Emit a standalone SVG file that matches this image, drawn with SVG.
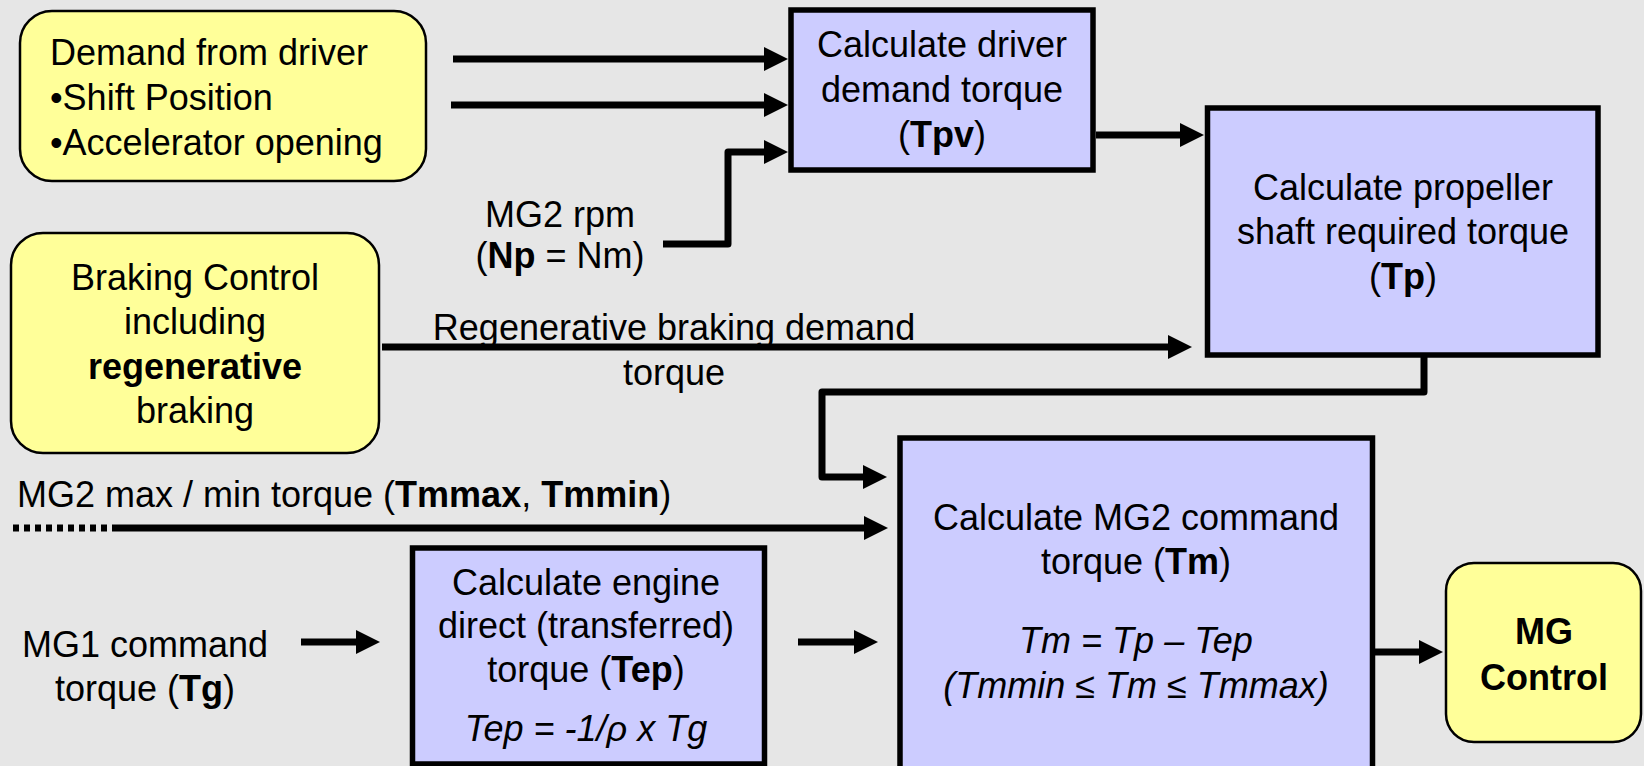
<svg xmlns="http://www.w3.org/2000/svg" width="1644" height="766" viewBox="0 0 1644 766">
<style>
.bg{fill:#e6e6e6}
.yel{fill:#ffff99;stroke:#000;stroke-width:2.5}
.pur{fill:#ccccff;stroke:#000;stroke-width:5.5}
.ln{fill:none;stroke:#000;stroke-width:7;stroke-linejoin:round}
.arr{marker-end:url(#ah)}
.dash{stroke-dasharray:6 5}
text{font-family:"Liberation Sans",Arial,Helvetica,sans-serif;font-size:36px;fill:#000}
text.c{text-anchor:middle}
text.l{text-anchor:start}
.b{font-weight:bold}
.i{font-style:italic}
</style>
<defs>
<marker id="ah" markerUnits="userSpaceOnUse" viewBox="0 0 24 24" markerWidth="24" markerHeight="24" refX="12" refY="12" orient="auto">
<path d="M0,0 L24,12 L0,24 Z" fill="#000"/>
</marker>
</defs>
<rect class="bg" x="0" y="0" width="1644" height="766"/>

<g id="connectors">
<path class="ln arr" d="M453,59 H776"/>
<path class="ln arr" d="M451,105 H776"/>
<path class="ln arr" d="M663,244 H728 V152 H776"/>
<path class="ln arr" d="M1096,135 H1192"/>
<path class="ln arr" d="M382,347 H1180"/>
<path class="ln arr" d="M1424,357 V392 H822 V477 H875"/>
<path class="ln dash" d="M13,528 H118"/>
<path class="ln arr" d="M118,528 H876"/>
<path class="ln arr" d="M301,642 H368"/>
<path class="ln arr" d="M798,642 H866"/>
<path class="ln arr" d="M1374,652 H1431"/>
</g>

<g id="demand-from-driver">
<rect class="yel" x="20" y="11" width="406" height="170" rx="32" ry="32"/>
<text class="l" x="50"><tspan x="50" y="65">Demand from driver</tspan><tspan x="50" y="110">•Shift Position</tspan><tspan x="50" y="155">•Accelerator opening</tspan></text>
</g>

<g id="driver-demand-torque">
<rect class="pur" x="791" y="10" width="302" height="160"/>
<text class="c" x="942"><tspan x="942" y="57">Calculate driver</tspan><tspan x="942" y="102">demand torque</tspan><tspan x="942" y="147">(<tspan class="b">Tpv</tspan>)</tspan></text>
</g>

<g id="mg2-rpm">
<text class="c" x="560"><tspan x="560" y="227">MG2 rpm</tspan><tspan x="560" y="268">(<tspan class="b">Np</tspan> = Nm)</tspan></text>
</g>

<g id="propeller-torque">
<rect class="pur" x="1207.5" y="108" width="390.5" height="247"/>
<text class="c" x="1403"><tspan x="1403" y="200">Calculate propeller</tspan><tspan x="1403" y="244">shaft required torque</tspan><tspan x="1403" y="289">(<tspan class="b">Tp</tspan>)</tspan></text>
</g>

<g id="braking-control">
<rect class="yel" x="11" y="233" width="368" height="220" rx="32" ry="32"/>
<text class="c" x="195"><tspan x="195" y="290">Braking Control</tspan><tspan x="195" y="334">including</tspan><tspan x="195" y="379" class="b">regenerative</tspan><tspan x="195" y="423">braking</tspan></text>
</g>

<g id="regen-label">
<text class="c" x="674"><tspan x="674" y="340">Regenerative braking demand</tspan><tspan x="674" y="385">torque</tspan></text>
</g>

<g id="mg2-maxmin-label">
<text class="l" x="17" y="507">MG2 max / min torque (<tspan class="b">Tmmax</tspan>, <tspan class="b">Tmmin</tspan>)</text>
</g>

<g id="mg1-label">
<text class="c" x="145"><tspan x="145" y="657">MG1 command</tspan><tspan x="145" y="701">torque (<tspan class="b">Tg</tspan>)</tspan></text>
</g>

<g id="engine-direct-torque">
<rect class="pur" x="412.5" y="548" width="352" height="216"/>
<text class="c" x="586"><tspan x="586" y="595">Calculate engine</tspan><tspan x="586" y="638">direct (transferred)</tspan><tspan x="586" y="682">torque (<tspan class="b">Tep</tspan>)</tspan><tspan x="586" y="741" class="i">Tep = -1/ρ x Tg</tspan></text>
</g>

<g id="mg2-command-torque">
<rect class="pur" x="900" y="438" width="472.5" height="350"/>
<text class="c" x="1136"><tspan x="1136" y="530">Calculate MG2 command</tspan><tspan x="1136" y="574">torque (<tspan class="b">Tm</tspan>)</tspan><tspan x="1136" y="653" class="i">Tm = Tp – Tep</tspan><tspan x="1136" y="698" class="i">(Tmmin ≤ Tm ≤ Tmmax)</tspan></text>
</g>

<g id="mg-control">
<rect class="yel" x="1446" y="563" width="195" height="179" rx="28" ry="28"/>
<text class="c b" x="1544"><tspan x="1544" y="644">MG</tspan><tspan x="1544" y="690">Control</tspan></text>
</g>
</svg>
